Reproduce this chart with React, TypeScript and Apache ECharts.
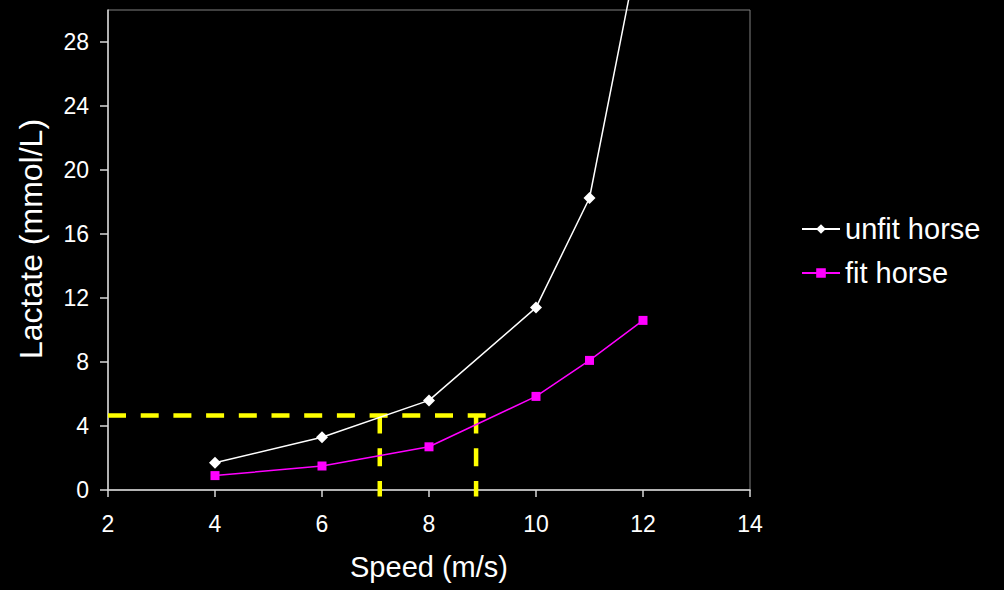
import React, { useEffect, useRef } from "react";
import * as echarts from "echarts";

const speeds = [4, 6, 8, 10, 11, 12];
const unfitLactate = [1.7, 3.3, 5.6, 11.4, 18.25, 35.2];
const fitLactate = [0.9, 1.5, 2.7, 5.85, 8.1, 10.6];
const yTicks = [0, 4, 8, 12, 16, 20, 24, 28];
const thresholdLactate = 4.65;
const thresholdSpeeds = [7.08, 8.88];
const thresholdLineEnd = 9.07;

const FONT = "'Liberation Sans', Arial, sans-serif";

export default function App() {
  const ref = useRef<HTMLDivElement>(null);
  useEffect(() => {
    if (!ref.current) return;
    const chart = echarts.init(ref.current, null, { renderer: "svg" });
    const dashed = {
      type: [18, 14.7] as any,
      width: 4.5,
      color: "#FFFF00",
      cap: "butt" as any,
    };
    chart.setOption({
      animation: false,
      backgroundColor: "#000000",
      textStyle: { fontFamily: FONT },
      grid: {
        left: 108,
        right: 254,
        top: 10,
        bottom: 100,
        show: true,
        borderColor: "#808080",
        borderWidth: 1,
        backgroundColor: "transparent",
      },
      legend: {
        orient: "vertical",
        left: 796,
        top: 209,
        itemWidth: 38,
        itemHeight: 12,
        itemGap: 14,
        data: ["unfit horse", "fit horse"],
        textStyle: { color: "#ffffff", fontSize: 29, fontFamily: FONT, lineHeight: 30 },
      },
      xAxis: {
        type: "value",
        min: 2,
        max: 14,
        interval: 2,
        name: "Speed (m/s)",
        nameLocation: "middle",
        nameGap: 62,
        nameTextStyle: { color: "#ffffff", fontSize: 29, fontFamily: FONT },
        axisLine: { show: true, onZero: false, lineStyle: { color: "#d9d9d9", width: 1.5 } },
        axisTick: { show: true, length: 7, lineStyle: { color: "#d9d9d9", width: 1.5 } },
        axisLabel: { color: "#ffffff", fontSize: 23, margin: 22, fontFamily: FONT },
        splitLine: { show: false },
      },
      yAxis: {
        type: "value",
        min: 0,
        max: 30,
        interval: 4,
        name: "Lactate (mmol/L)",
        nameLocation: "middle",
        nameGap: 61,
        nameTextStyle: { color: "#ffffff", fontSize: 32, fontFamily: FONT, padding: [0, 0, 0, 22] },
        axisLine: { show: true, onZero: false, lineStyle: { color: "#d9d9d9", width: 1.5 } },
        axisTick: { show: true, length: 8, customValues: yTicks, lineStyle: { color: "#d9d9d9", width: 1.5 } },
        axisLabel: { color: "#ffffff", fontSize: 23, margin: 19, customValues: yTicks, fontFamily: FONT },
        splitLine: { show: false },
      },
      series: [
        {
          name: "threshold-h",
          type: "line",
          data: [[2, thresholdLactate], [thresholdLineEnd, thresholdLactate]],
          symbol: "none",
          lineStyle: dashed,
          clip: false,
          silent: true,
          z: 1,
        },
        ...thresholdSpeeds.map((s, i) => ({
          name: "threshold-v" + i,
          type: "line",
          data: [[s, thresholdLactate], [s, -0.4]],
          symbol: "none",
          lineStyle: dashed,
          clip: false,
          silent: true,
          z: 1,
        })),
        {
          name: "unfit horse",
          type: "line",
          data: speeds.map((s, i) => [s, unfitLactate[i]]),
          symbol: "diamond",
          symbolSize: 12,
          itemStyle: { color: "#ffffff" },
          lineStyle: { color: "#ffffff", width: 1.5 },
          clip: false,
          z: 3,
        },
        {
          name: "fit horse",
          type: "line",
          data: speeds.map((s, i) => [s, fitLactate[i]]),
          symbol: "rect",
          symbolSize: 9,
          itemStyle: { color: "#FF00FF" },
          lineStyle: { color: "#FF00FF", width: 1.5 },
          z: 3,
        },
      ],
    });
    return () => chart.dispose();
  }, []);
  return (
    <div
      ref={ref}
      style={{ position: "absolute", left: 0, top: 0, width: 1004, height: 590, background: "#000" }}
    />
  );
}
